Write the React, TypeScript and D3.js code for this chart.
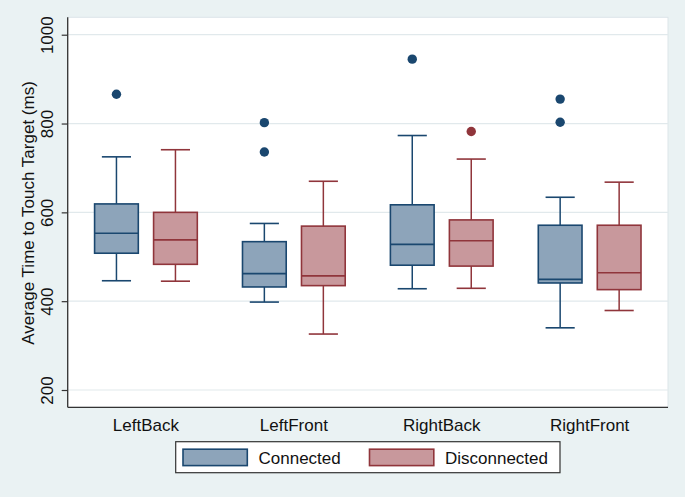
import React, { useEffect, useRef } from "react";
import * as d3 from "d3";

// chart values
const categories = ["LeftBack", "LeftFront", "RightBack", "RightFront"];
const groups = ["Connected", "Disconnected"];

const connectedLower = [446, 398, 428, 340];
const connectedQ1 = [508, 432, 481, 441];
const connectedMedian = [553, 462, 528, 449];
const connectedQ3 = [619, 534, 617, 571];
const connectedUpper = [725, 575, 773, 634];
const connectedOutliers = [[866], [802, 736], [945], [855, 803]];

const disconnectedLower = [445, 326, 429, 379];
const disconnectedQ1 = [483, 435, 479, 426];
const disconnectedMedian = [538, 457, 536, 464];
const disconnectedQ3 = [600, 569, 583, 571];
const disconnectedUpper = [741, 670, 720, 668];
const disconnectedOutliers = [[], [], [782], []];

const yTicks = [200, 400, 600, 800, 1000];
const yTitle = "Average Time to Touch Target (ms)";

const width = 685;
const height = 497;
const plot = { left: 67.7, right: 668, top: 17.3, bottom: 407.3 };
const FONT = "'Liberation Sans', Arial, Helvetica, sans-serif";

const colors: Record<string, { stroke: string; fill: string }> = {
  Connected: { stroke: "#1A476F", fill: "#8DA4BA" },
  Disconnected: { stroke: "#90353B", fill: "#C8989C" },
};

type BoxRow = {
  category: string;
  group: string;
  lower: number;
  q1: number;
  median: number;
  q3: number;
  upper: number;
  outliers: number[];
};

function buildRows(): BoxRow[] {
  const rows: BoxRow[] = [];
  categories.forEach((c, i) => {
    rows.push({
      category: c, group: "Connected",
      lower: connectedLower[i], q1: connectedQ1[i], median: connectedMedian[i],
      q3: connectedQ3[i], upper: connectedUpper[i], outliers: connectedOutliers[i],
    });
    rows.push({
      category: c, group: "Disconnected",
      lower: disconnectedLower[i], q1: disconnectedQ1[i], median: disconnectedMedian[i],
      q3: disconnectedQ3[i], upper: disconnectedUpper[i], outliers: disconnectedOutliers[i],
    });
  });
  return rows;
}

export default function App() {
  const ref = useRef<SVGSVGElement>(null);

  useEffect(() => {
    const svg = d3.select(ref.current);
    svg.selectAll("*").remove();

    svg.append("rect").attr("width", width).attr("height", height).attr("fill", "#EAF2F3");
    svg.append("rect")
      .attr("x", plot.left).attr("y", plot.top)
      .attr("width", plot.right - plot.left).attr("height", plot.bottom - plot.top)
      .attr("fill", "#ffffff").attr("stroke", "#DCE5E9").attr("stroke-width", 1);

    // 1000 -> 34.7px, 200 -> 390px
    const yScale = d3.scaleLinear().domain([161.05, 1039.2]).range([plot.bottom, plot.top]);
    const xScale = d3.scaleBand().domain(categories).range([72, 663.6]).padding(0);
    const inner = d3.scaleBand().domain(groups).range([0, xScale.bandwidth()])
      .paddingInner(0.259).paddingOuter(0.383);

    // gridlines
    svg.append("g").selectAll("line").data(yTicks).join("line")
      .attr("x1", plot.left).attr("x2", plot.right)
      .attr("y1", d => yScale(d)).attr("y2", d => yScale(d))
      .attr("stroke", "#E1E9EC").attr("stroke-width", 1.2);

    // y axis
    const yAxis = d3.axisLeft(yScale).tickValues(yTicks).tickSize(6).tickPadding(0).tickFormat(d3.format("d"));
    const gy = svg.append("g").attr("transform", `translate(${plot.left},0)`).call(yAxis);
    gy.select(".domain").attr("d", `M0,${plot.top}V${plot.bottom}`).attr("stroke", "#333").attr("stroke-width", 1.3);
    gy.selectAll(".tick line").attr("stroke", "#333").attr("stroke-width", 1.2);
    gy.selectAll(".tick text")
      .attr("x", null).attr("dy", null)
      .attr("transform", "translate(-14.5,0) rotate(-90)")
      .attr("text-anchor", "middle")
      .attr("font-family", FONT).attr("font-size", 17).attr("fill", "#111");

    svg.append("text")
      .attr("transform", `translate(34,213) rotate(-90)`)
      .attr("text-anchor", "middle")
      .attr("font-family", FONT).attr("font-size", 17).attr("fill", "#111")
      .text(yTitle);

    // x axis
    const xAxis = d3.axisBottom(xScale).tickSize(0).tickPadding(0);
    const gx = svg.append("g").attr("transform", `translate(0,${plot.bottom})`).call(xAxis);
    gx.select(".domain").attr("d", `M${plot.left},0H${plot.right}`).attr("stroke", "#333").attr("stroke-width", 1.3);
    gx.selectAll(".tick text")
      .attr("y", 24).attr("dy", null)
      .attr("font-family", FONT).attr("font-size", 17).attr("fill", "#111");

    // boxes
    const rows = buildRows();
    const bw = inner.bandwidth();
    const capW = bw * 0.667;
    const box = svg.append("g").selectAll("g").data(rows).join("g")
      .attr("transform", d => `translate(${(xScale(d.category) ?? 0) + (inner(d.group) ?? 0) + bw / 2},0)`);

    box.append("line")
      .attr("x1", 0).attr("x2", 0)
      .attr("y1", d => yScale(d.upper)).attr("y2", d => yScale(d.q3))
      .attr("stroke", d => colors[d.group].stroke).attr("stroke-width", 1.5);
    box.append("line")
      .attr("x1", 0).attr("x2", 0)
      .attr("y1", d => yScale(d.q1)).attr("y2", d => yScale(d.lower))
      .attr("stroke", d => colors[d.group].stroke).attr("stroke-width", 1.5);
    box.append("line")
      .attr("x1", -capW / 2).attr("x2", capW / 2)
      .attr("y1", d => yScale(d.upper)).attr("y2", d => yScale(d.upper))
      .attr("stroke", d => colors[d.group].stroke).attr("stroke-width", 1.6);
    box.append("line")
      .attr("x1", -capW / 2).attr("x2", capW / 2)
      .attr("y1", d => yScale(d.lower)).attr("y2", d => yScale(d.lower))
      .attr("stroke", d => colors[d.group].stroke).attr("stroke-width", 1.6);
    box.append("rect")
      .attr("x", -bw / 2).attr("width", bw)
      .attr("y", d => yScale(d.q3)).attr("height", d => yScale(d.q1) - yScale(d.q3))
      .attr("fill", d => colors[d.group].fill)
      .attr("stroke", d => colors[d.group].stroke).attr("stroke-width", 1.6);
    box.append("line")
      .attr("x1", -bw / 2).attr("x2", bw / 2)
      .attr("y1", d => yScale(d.median)).attr("y2", d => yScale(d.median))
      .attr("stroke", d => colors[d.group].stroke).attr("stroke-width", 1.6);
    box.selectAll("circle").data(d => d.outliers.map(v => ({ v, group: d.group }))).join("circle")
      .attr("cx", 0).attr("cy", d => yScale(d.v)).attr("r", 4.7)
      .attr("fill", d => colors[d.group].stroke);

    // legend
    const lg = svg.append("g");
    lg.append("rect").attr("x", 175.7).attr("y", 441.7).attr("width", 384.3).attr("height", 31)
      .attr("fill", "#fff").attr("stroke", "#333").attr("stroke-width", 1.2);
    const keyX = [183, 369.5];
    groups.forEach((g, i) => {
      lg.append("rect").attr("x", keyX[i]).attr("y", 449.2).attr("width", 64.3).attr("height", 16.4)
        .attr("fill", colors[g].fill).attr("stroke", colors[g].stroke).attr("stroke-width", 1.6);
      lg.append("text").attr("x", keyX[i] + 75.5).attr("y", 463.5)
        .attr("font-family", FONT).attr("font-size", 17).attr("fill", "#111")
        .text(g);
    });
  }, []);

  return (
    <svg ref={ref} width={width} height={height}
      style={{ position: "absolute", left: 0, top: 0, display: "block" }} />
  );
}
